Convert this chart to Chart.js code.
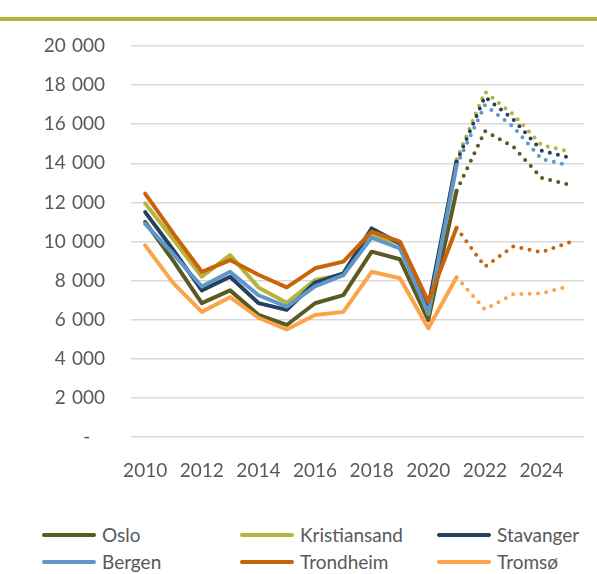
<!DOCTYPE html>
<html>
<head>
<meta charset="utf-8">
<script src="https://cdn.jsdelivr.net/npm/chart.js@4"></script>
<style>
  body { margin: 0; background: #fff; font-family: Lato, sans-serif; }
  #wrap { position: relative; width: 597px; height: 574px; }
  #topbar { position: absolute; left: 0; top: 17px; width: 597px; height: 4px; background: #b5b23c; }
  #box { position: absolute; left: 0; top: 0; width: 597px; height: 500px; }
  #legend { position: absolute; left: 0; top: 522px; width: 597px; }
  .item { position: absolute; height: 26px; line-height: 26px; font-size: 19px; color: #595959; white-space: nowrap; }
  .item span.ln { position: absolute; left: 0; top: 11px; width: 54px; height: 4px; border-radius: 2px; }
  .item span.tx { position: absolute; left: 60px; top: 0; }
</style>
</head>
<body>
<div id="wrap">
  <div id="topbar"></div>
  <div id="box"><canvas id="myChart"></canvas></div>
  <div id="legend"></div>
</div>
<script>
var years = ['2010','2011','2012','2013','2014','2015','2016','2017','2018','2019','2020','2021','2022','2023','2024','2025'];

var oslo         = [11000, 9000, 6850, 7500, 6250, 5730, 6840, 7260, 9480, 9090, 5980, 12600, 15650, 14850, 13250, 12900];
var kristiansand = [11950, 10100, 8200, 9300, 7650, 6870, 8030, 8300, 10330, 9900, 6300, 14200, 17660, 16500, 14930, 14600];
var stavanger    = [11500, 9560, 7500, 8200, 6850, 6500, 7900, 8370, 10670, 9900, 6670, 14080, 17400, 16250, 14650, 14290];
var bergen       = [10900, 9350, 7700, 8450, 7250, 6670, 7700, 8280, 10200, 9650, 6330, 13900, 16980, 15870, 14220, 13880];
var trondheim    = [12450, 10400, 8450, 9050, 8300, 7650, 8630, 8970, 10500, 9990, 6920, 10700, 8710, 9750, 9450, 9970];
var tromso       = [9800, 7860, 6400, 7150, 6100, 5500, 6240, 6400, 8450, 8120, 5560, 8170, 6530, 7300, 7350, 7720];

var names  = ['Oslo', 'Kristiansand', 'Stavanger', 'Bergen', 'Trondheim', 'Tromsø'];
var series = [oslo, kristiansand, stavanger, bergen, trondheim, tromso];
var colors = ['#5a5a22', '#b5b43c', '#24415f', '#6097c8', '#c8650a', '#fba44a'];

// forecast part (from 2021) is dotted
var lastActual = 11;

var datasets = series.map(function(d, i){
  return {
    label: names[i],
    data: d,
    borderColor: colors[i],
    backgroundColor: colors[i],
    borderWidth: 4,
    borderCapStyle: 'round',
    borderJoinStyle: 'round',
    pointRadius: 0,
    tension: 0,
    order: series.length - i,
    segment: {
      borderDash: function(ctx){ return ctx.p0DataIndex >= lastActual ? [0, 8.3] : undefined; }
    }
  };
});

const ctx = document.getElementById('myChart').getContext('2d');
const myChart = new Chart(ctx, {
  type: 'line',
  data: { labels: years, datasets: datasets },
  options: {
    responsive: true,
    maintainAspectRatio: false,
    animation: false,
    layout: { padding: { top: 46, right: 13, left: 0, bottom: 0 } },
    plugins: { legend: { display: false }, tooltip: { enabled: false } },
    scales: {
      x: {
        offset: true,
        grid: { display: false, drawTicks: false },
        border: { display: false },
        ticks: {
          autoSkip: false, maxRotation: 0, padding: 22,
          color: '#595959', font: { family: 'Lato', size: 19 },
          callback: function(v, i){ return i % 2 === 0 ? years[i] : ''; }
        },
        afterFit: function(scale){ scale.height = 63; }
      },
      y: {
        min: 0, max: 20000,
        grid: { color: '#d9d9d9', lineWidth: 1.5, drawTicks: false },
        border: { display: false },
        ticks: {
          stepSize: 2000, padding: 26,
          color: '#595959', font: { family: 'Lato', size: 19 },
          callback: function(v){
            if (v === 0) return '-   ';
            return String(v).replace(/\B(?=(\d{3})+(?!\d))/g, ' \u200A');
          }
        },
        afterFit: function(scale){ scale.width = 131; }
      }
    }
  }
});

// legend, 3 columns x 2 rows
var leg = document.getElementById('legend');
var colX = [42, 240, 437];
names.forEach(function(n, i){
  var el = document.createElement('div');
  el.className = 'item';
  el.style.left = colX[i % 3] + 'px';
  el.style.top = (Math.floor(i / 3) * 27) + 'px';
  el.innerHTML = '<span class="ln" style="background:' + colors[i] + '"></span><span class="tx">' + n + '</span>';
  leg.appendChild(el);
});
</script>
</body>
</html>
